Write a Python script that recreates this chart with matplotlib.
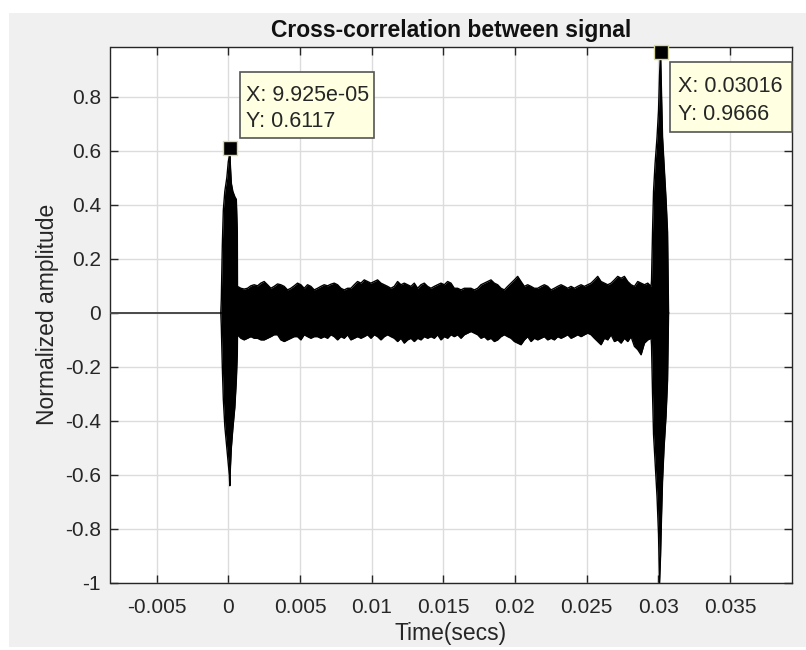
import numpy as np
import matplotlib
matplotlib.use("Agg")
import matplotlib.pyplot as plt
from matplotlib.patches import Rectangle
from matplotlib.transforms import Affine2D, ScaledTranslation

plt.rcParams['font.family'] = ['Liberation Sans', 'DejaVu Sans']

# ---------------- data (times in ms, amplitudes normalized) ----------------
# flat part before the correlation starts
pre_t = [-8.4, -0.531]
pre_v = [0.0, 0.0]

# first peak (direct path) envelope
peak1_t = [-0.531, -0.496, -0.426, -0.356, -0.251, -0.112, -0.007, 0.063,
           0.099, 0.133, 0.203, 0.307, 0.447, 0.552, 0.621]
peak1_upper = [0.0, 0.05, 0.25, 0.38, 0.45, 0.50, 0.56, 0.58,
               0.6117, 0.55, 0.48, 0.45, 0.43, 0.42, 0.30]
peak1_lower = [0.0, -0.05, -0.20, -0.32, -0.42, -0.50, -0.56, -0.60,
               -0.64, -0.58, -0.50, -0.43, -0.35, -0.25, -0.15]

# noise band between the two peaks (125 samples from 0.633 ms to 29.50 ms)
noise_start_ms = 0.633
noise_end_ms = 29.50
noise_upper = [
    0.098, 0.091, 0.088, 0.091, 0.100, 0.104, 0.100, 0.110, 0.116, 0.104,
    0.091, 0.098, 0.107, 0.104, 0.098, 0.085, 0.091, 0.100, 0.110, 0.104,
    0.091, 0.104, 0.098, 0.085, 0.091,
    0.098, 0.104, 0.100, 0.106, 0.110, 0.104, 0.091, 0.085, 0.091, 0.091,
    0.104, 0.116, 0.110, 0.122, 0.116, 0.110, 0.116, 0.122, 0.110, 0.104,
    0.098, 0.091, 0.098, 0.116, 0.104, 0.110, 0.104, 0.098, 0.110, 0.091,
    0.104, 0.110, 0.098,
    0.091, 0.098, 0.104, 0.110, 0.104, 0.116, 0.110, 0.091, 0.091, 0.085,
    0.091, 0.091, 0.091, 0.085, 0.091, 0.104, 0.110, 0.116, 0.122, 0.110,
    0.104, 0.091, 0.085, 0.098, 0.110, 0.122, 0.135, 0.116, 0.098, 0.104,
    0.098, 0.091, 0.091,
    0.098, 0.104, 0.098, 0.085, 0.091, 0.098, 0.104, 0.098, 0.091, 0.098,
    0.091, 0.098, 0.104, 0.098, 0.104, 0.110, 0.122, 0.135, 0.116, 0.110,
    0.104, 0.110, 0.122, 0.135, 0.128, 0.135, 0.116, 0.104, 0.098, 0.116,
    0.110, 0.104, 0.110, 0.098]
noise_lower = [
    -0.081, -0.094, -0.100, -0.094, -0.088, -0.094, -0.094, -0.100, -0.100, -0.094,
    -0.088, -0.081, -0.081, -0.100, -0.106, -0.100, -0.094, -0.088, -0.088, -0.100,
    -0.081, -0.088, -0.094, -0.088, -0.088,
    -0.094, -0.088, -0.094, -0.081, -0.088, -0.100, -0.088, -0.094, -0.081, -0.100,
    -0.094, -0.088, -0.094, -0.088, -0.081, -0.094, -0.081, -0.088, -0.100, -0.088,
    -0.081, -0.088, -0.094, -0.106, -0.094, -0.112, -0.100, -0.094, -0.106, -0.094,
    -0.100, -0.088, -0.094,
    -0.088, -0.094, -0.081, -0.100, -0.088, -0.094, -0.081, -0.088, -0.081, -0.094,
    -0.081, -0.075, -0.069, -0.075, -0.081, -0.094, -0.088, -0.100, -0.094, -0.106,
    -0.100, -0.088, -0.081, -0.088, -0.094, -0.106, -0.112, -0.118, -0.100, -0.088,
    -0.106, -0.094, -0.100,
    -0.094, -0.088, -0.100, -0.094, -0.100, -0.088, -0.094, -0.088, -0.081, -0.094,
    -0.088, -0.081, -0.088, -0.081, -0.075, -0.081, -0.094, -0.106, -0.118, -0.094,
    -0.100, -0.081, -0.106, -0.100, -0.112, -0.094, -0.106, -0.088, -0.124, -0.136,
    -0.155, -0.112, -0.100, -0.094]

# second peak (reflected path) envelope
peak2_t = [29.531, 29.601, 29.671, 29.776, 29.915, 30.020, 30.090, 30.160,
           30.230, 30.300, 30.404, 30.544, 30.649, 30.719]
peak2_upper = [0.12, 0.30, 0.45, 0.55, 0.65, 0.75, 0.88, 0.9666,
               0.80, 0.65, 0.55, 0.42, 0.30, 0.0]
peak2_lower = [-0.12, -0.30, -0.45, -0.55, -0.68, -0.82, -1.0, -0.90,
               -0.75, -0.62, -0.50, -0.38, -0.25, 0.0]

# data tips
tip_x = [9.925e-05, 0.03016]
tip_y = [0.6117, 0.9666]
tip_lines = [["X: 9.925e-05", "Y: 0.6117"], ["X: 0.03016", "Y: 0.9666"]]

# axes
xticks = [-0.005, 0, 0.005, 0.01, 0.015, 0.02, 0.025, 0.03, 0.035]
xtick_labels = ["-0.005", "0", "0.005", "0.01", "0.015", "0.02", "0.025", "0.03", "0.035"]
yticks = [-1, -0.8, -0.6, -0.4, -0.2, 0, 0.2, 0.4, 0.6, 0.8]
ytick_labels = ["-1", "-0.8", "-0.6", "-0.4", "-0.2", "0", "0.2", "0.4", "0.6", "0.8"]
xlim = (-0.00823, 0.0393)
ylim = (-1.0, 0.986)

# ---------------- figure ----------------
W, H = 806, 650
fig = plt.figure(figsize=(W / 100, H / 100), dpi=100, facecolor='white')
fig.patches.append(Rectangle((9 / W, 3 / H), 1 - 9 / W, 1 - 16 / H,
                             transform=fig.transFigure, facecolor='#f0f0f0',
                             edgecolor='none', zorder=-10))

ax = fig.add_axes([110.5 / W, 1 - 583 / H, (791.5 - 110.5) / W, (583 - 46.5) / H])
ax.set_facecolor('white')

noise_t = np.linspace(noise_start_ms, noise_end_ms, len(noise_upper))
t_ms = np.concatenate([peak1_t, noise_t, peak2_t])
up = np.concatenate([peak1_upper, noise_upper, peak2_upper])
lo = np.concatenate([peak1_lower, noise_lower, peak2_lower])
t_s = t_ms / 1000.0

ax.plot(np.array(pre_t) / 1000.0, pre_v, color='#4a4a4a', lw=1.4, zorder=3)
ax.fill_between(t_s, lo, up, color='black', lw=0, zorder=3)
ax.plot(t_s, up, color='black', lw=1.0, zorder=3)
ax.plot(t_s, lo, color='black', lw=1.0, zorder=3)

ax.set_xlim(*xlim)
ax.set_ylim(*ylim)
ax.set_xticks(xticks)
ax.set_xticklabels(xtick_labels)
ax.set_yticks(yticks)
ax.set_yticklabels(ytick_labels)

ax.grid(True, color='#dcdcdc', lw=1.0, zorder=0)
ax.set_axisbelow(True)
for s in ax.spines.values():
    s.set_color('#262626')
    s.set_linewidth(1.0)
ax.tick_params(direction='in', length=6, width=1.0, color='#262626',
               top=True, right=True, labelsize=15, labelcolor='#262626')
ax.tick_params(axis='x', pad=10.5)
ax.tick_params(axis='y', pad=7)

ax.set_title("Cross-correlation between signal", fontsize=16.5, fontweight='bold',
             color='#111111', pad=7)
ax.set_xlabel("Time(secs)", fontsize=16.5, color='#262626', labelpad=4)
ax.set_ylabel("Normalized amplitude", fontsize=16.5, color='#262626', labelpad=4)

# data tip markers and boxes (box offsets in pixels relative to the tip point)
box_geom = [(10, 10, 134, 66), (9, -80, 122, 70)]
text_geom = [(16, 46.5, 20.5), (17, -40.5, -68.5)]
for x, y, lines, bg, tg in zip(tip_x, tip_y, tip_lines, box_geom, text_geom):
    ax.plot([x], [y], marker='s', markersize=10, markerfacecolor='black',
            markeredgecolor='#d8d8a0', markeredgewidth=1.0, zorder=6, clip_on=False)
    anchor = ScaledTranslation(x, y, ax.transData)
    rect = Rectangle((bg[0], bg[1]), bg[2], bg[3],
                     transform=Affine2D() + anchor,
                     facecolor='#ffffe1', edgecolor='#555555', lw=1.2,
                     zorder=7, clip_on=False)
    ax.add_patch(rect)
    for line, dy in zip(lines, tg[1:]):
        ax.annotate(line, xy=(x, y), xytext=(tg[0], dy), textcoords='offset pixels',
                    ha='left', va='baseline', fontsize=15.5, color='#262626',
                    zorder=8, annotation_clip=False)

fig.savefig("out.png", dpi=100, facecolor=fig.get_facecolor())
